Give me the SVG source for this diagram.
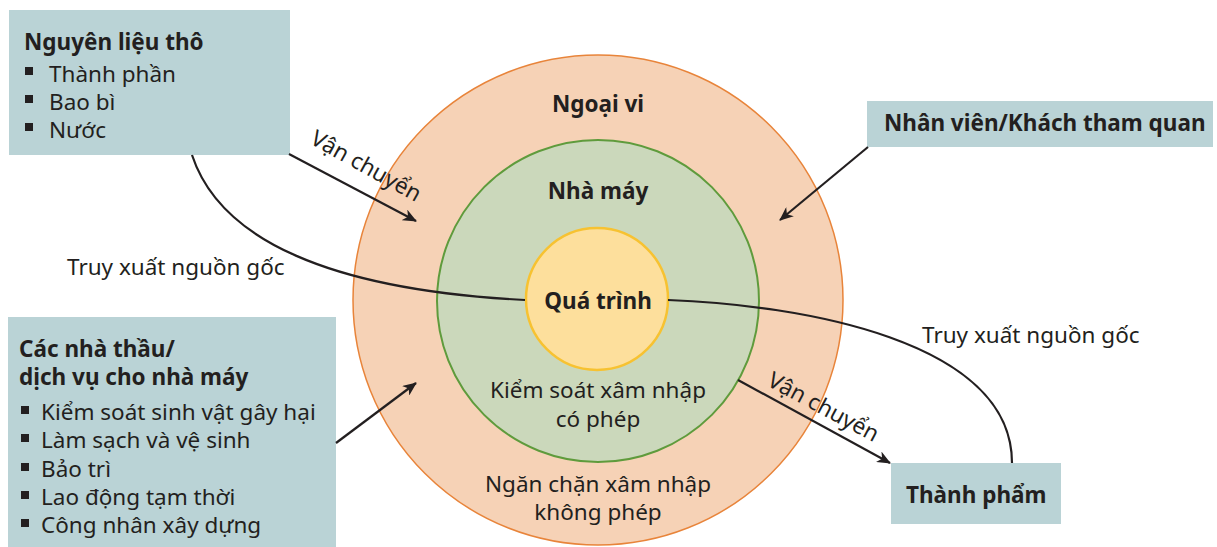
<svg xmlns="http://www.w3.org/2000/svg" width="1217" height="547" viewBox="0 0 1217 547">
<defs>
<marker id="ah" markerWidth="14" markerHeight="12" refX="13" refY="6" orient="auto" markerUnits="userSpaceOnUse">
<path d="M0,0 L14,6 L0,12 L4,6 Z" fill="#231f20"/>
</marker>
</defs>
<style>
text{font-family:"Noto Sans","Liberation Sans",sans-serif;fill:#231f20;font-size:22.5px}
.b{font-weight:bold}
.c{text-anchor:middle}
.box{fill:#bad3d6}
.blt{fill:#231f20}
.ln{fill:none;stroke:#231f20;stroke-width:2.2}
</style>
<rect width="1217" height="547" fill="#ffffff"/>
<g id="outer">
<circle cx="598" cy="300" r="245" fill="#f6d2b6" stroke="#e8843a" stroke-width="1.5"/>
<text class="b c" x="598" y="112">Ngoại vi</text>
<text class="c" x="598" y="492">Ngăn chặn xâm nhập</text>
<text class="c" x="598" y="520">không phép</text>
</g>
<g id="plant">
<circle cx="598" cy="301" r="161" fill="#cbd8bb" stroke="#5f9b3c" stroke-width="2"/>
<text class="b c" x="598" y="199">Nhà máy</text>
<text class="c" x="598" y="398">Kiểm soát xâm nhập</text>
<text class="c" x="598" y="427">có phép</text>
</g>
<g id="process">
<circle cx="597" cy="299" r="71" fill="#fddf9c" stroke="#f7c231" stroke-width="2.5"/>
<text class="b c" x="598" y="309">Quá trình</text>
</g>
<g id="raw">
<rect class="box" x="9" y="10" width="281" height="145"/>
<text class="b" x="24" y="50">Nguyên liệu thô</text>
<rect class="blt" x="25" y="67" width="8" height="8"/>
<text x="49" y="82">Thành phần</text>
<rect class="blt" x="25" y="95" width="8" height="8"/>
<text x="49" y="110">Bao bì</text>
<rect class="blt" x="25" y="123" width="8" height="8"/>
<text x="49" y="138">Nước</text>
</g>
<g id="contractors">
<rect class="box" x="8" y="317" width="328" height="230"/>
<text class="b" x="19" y="357">Các nhà thầu/</text>
<text class="b" x="19" y="385">dịch vụ cho nhà máy</text>
<rect class="blt" x="21" y="406" width="8" height="8"/>
<text x="41" y="420">Kiểm soát sinh vật gây hại</text>
<rect class="blt" x="21" y="434" width="8" height="8"/>
<text x="41" y="448">Làm sạch và vệ sinh</text>
<rect class="blt" x="21" y="463" width="8" height="8"/>
<text x="41" y="477">Bảo trì</text>
<rect class="blt" x="21" y="491" width="8" height="8"/>
<text x="41" y="505">Lao động tạm thời</text>
<rect class="blt" x="21" y="519" width="8" height="8"/>
<text x="41" y="533">Công nhân xây dựng</text>
</g>
<g id="staff">
<rect class="box" x="867" y="101" width="346" height="46"/>
<text class="b" x="884" y="131">Nhân viên/Khách tham quan</text>
</g>
<g id="finished">
<rect class="box" x="891" y="463" width="170" height="61"/>
<text class="b" x="906" y="503">Thành phẩm</text>
</g>
<g id="connectors">
<path class="ln" d="M192,155 C220,240 330,290 525,300"/>
<path class="ln" d="M668,300 C800,305 1012,340 1012,463"/>
<line class="ln" x1="289" y1="154" x2="416" y2="221" marker-end="url(#ah)"/>
<line class="ln" x1="868" y1="147" x2="780" y2="220" marker-end="url(#ah)"/>
<line class="ln" x1="336" y1="443" x2="416" y2="383" marker-end="url(#ah)"/>
<line class="ln" x1="738" y1="380" x2="890" y2="463" marker-end="url(#ah)"/>
<text x="67" y="275">Truy xuất nguồn gốc</text>
<text x="922" y="343">Truy xuất nguồn gốc</text>
<text transform="translate(309,143) rotate(29)">Vận chuyển</text>
<text transform="translate(766,385) rotate(28)">Vận chuyển</text>
</g>
</svg>
